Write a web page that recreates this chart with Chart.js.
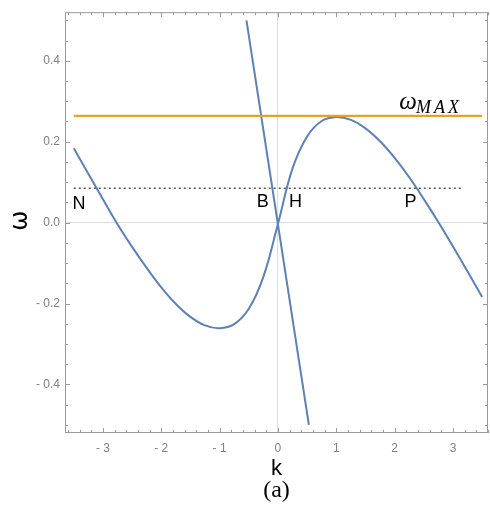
<!DOCTYPE html>
<html><head><meta charset="utf-8">
<script src="https://cdn.jsdelivr.net/npm/chart.js@4/dist/chart.umd.min.js"></script>
<style>html,body{margin:0;padding:0;background:#fff}#wrap{width:490px;height:525px;position:relative}</style>
</head><body><div id="wrap"><canvas id="c"></canvas></div>
<script>
// dispersion curve omega(k)
const curveK = [-3.5,-3.25,-3.0,-2.75,-2.5,-2.25,-2.0,-1.75,-1.5,-1.25,-1.0,-0.75,-0.5,-0.25,0,0.25,0.5,0.75,1.0,1.25,1.5,1.75,2.0,2.25,2.5,2.75,3.0,3.25,3.5];
const curveW = [0.184,0.121,0.058,-0.004,-0.060,-0.112,-0.160,-0.201,-0.233,-0.254,-0.261,-0.251,-0.213,-0.134,-0.003,0.134,0.213,0.251,0.261,0.254,0.233,0.201,0.160,0.112,0.058,0.001,-0.059,-0.121,-0.184];
// steep straight line
const lineK = [-0.54, 0.53];
const lineW = [0.50, -0.50];
// omega_MAX level
const maxK = [-3.5, 3.5];
const maxW = [0.264, 0.264];
// dotted frequency level
const levelK = [-3.5, 3.16];
const levelW = [0.085, 0.085];
// tick labels
const xTicks = [-3,-2,-1,0,1,2,3];
const yTicks = [-0.4,-0.2,0,0.2,0.4];
// point labels on the dotted level
const pointNames = ['N','B','H','P'];
const pointNameK = [-3.41,-0.26,0.30,2.27];
const pointNameW = [0.046,0.052,0.052,0.052];

const pts = (xs, ys) => xs.map((x, i) => ({x, y: ys[i]}));
const BLUE = '#5E81B5', ORANGE = '#E8A02A', GRAY = '#9a9a9a';

const framePlugin = {
  id: 'frame',
  afterDatasetsDraw(chart) {
    const {ctx, chartArea: a, scales: {x, y}} = chart;
    ctx.save();
    ctx.strokeStyle = GRAY; ctx.lineWidth = 1;
    ctx.strokeRect(a.left + 0.5, a.top + 0.5, a.right - a.left - 1, a.bottom - a.top - 1);
    ctx.beginPath();
    for (let i = -18; i <= 18; i++) {
      const v = i * 0.2; if (v < x.min || v > x.max) continue;
      const px = Math.round(x.getPixelForValue(v)) + 0.5;
      const len = (i % 5 === 0) ? 5 : 3;
      ctx.moveTo(px, a.bottom); ctx.lineTo(px, a.bottom - len);
      ctx.moveTo(px, a.top); ctx.lineTo(px, a.top + len);
    }
    for (let i = -10; i <= 10; i++) {
      const v = i * 0.05; if (v < y.min || v > y.max) continue;
      const py = Math.round(y.getPixelForValue(v)) + 0.5;
      const len = (i % 4 === 0) ? 5 : 3;
      ctx.moveTo(a.left, py); ctx.lineTo(a.left + len, py);
      ctx.moveTo(a.right, py); ctx.lineTo(a.right - len, py);
    }
    ctx.stroke();
    ctx.restore();
  },
  afterDraw(chart) {
    const {ctx, chartArea: a, scales: {x, y}} = chart;
    ctx.save();
    ctx.fillStyle = '#000';
    ctx.textAlign = 'center'; ctx.textBaseline = 'middle';
    ctx.font = '18px "Liberation Sans", Arial, sans-serif';
    pointNames.forEach((n, i) => {
      ctx.fillText(n, x.getPixelForValue(pointNameK[i]), y.getPixelForValue(pointNameW[i]));
    });
    // omega_MAX label
    ctx.textAlign = 'left'; ctx.textBaseline = 'alphabetic';
    const lx = x.getPixelForValue(2.08), ly = y.getPixelForValue(0.281);
    ctx.font = 'italic 25px "Liberation Serif", serif';
    ctx.fillText('ω', lx, ly);
    const w = ctx.measureText('ω').width;
    ctx.font = 'italic 18px "Liberation Serif", serif';
    ctx.letterSpacing = '3px';
    ctx.fillText('MAX', lx + w - 1, ly + 4);
    ctx.letterSpacing = '0px';
    // axis titles
    const cx = (a.left + a.right) / 2;
    ctx.textAlign = 'center'; ctx.textBaseline = 'middle';
    ctx.font = '22px "Liberation Sans", Arial, sans-serif';
    ctx.fillText('k', cx, 469);
    ctx.save();
    ctx.translate(21, y.getPixelForValue(0) - 2);
    ctx.rotate(-Math.PI / 2);
    ctx.font = '24px "DejaVu Sans", sans-serif';
    ctx.fillText('ω', 0, 0);
    ctx.restore();
    ctx.font = '24px "Liberation Serif", serif';
    ctx.fillText('(a)', cx, 491);
    ctx.restore();
  }
};

new Chart(document.getElementById('c'), {
  type: 'scatter',
  data: {
    datasets: [
      {data: pts(levelK, levelW), showLine: true, borderColor: '#555', borderWidth: 1.6, borderDash: [2, 3], pointRadius: 0},
      {data: pts(maxK, maxW), showLine: true, borderColor: ORANGE, borderWidth: 2.2, pointRadius: 0},
      {data: pts(curveK, curveW), showLine: true, borderColor: BLUE, borderWidth: 2, pointRadius: 0, tension: 0.4},
      {data: pts(lineK, lineW), showLine: true, borderColor: BLUE, borderWidth: 2, pointRadius: 0}
    ]
  },
  options: {
    responsive: true, maintainAspectRatio: false, animation: false,
    layout: {padding: {top: 7, right: 2, left: 0, bottom: 0}},
    plugins: {legend: {display: false}, tooltip: {enabled: false}},
    scales: {
      x: {
        type: 'linear', min: -3.65, max: 3.6,
        afterBuildTicks: s => { s.ticks = xTicks.map(v => ({value: v})); },
        afterFit: s => { s.height = 92; },
        ticks: {padding: 8, color: '#808080', font: {size: 12, family: '"Liberation Sans", Arial, sans-serif'},
          callback: v => (v < 0 ? '- ' : '') + Math.abs(v).toFixed(0)},
        grid: {drawTicks: false, color: c => (c.tick && c.tick.value === 0) ? '#dcdcdc' : 'rgba(0,0,0,0)'},
        border: {display: false}
      },
      y: {
        type: 'linear', min: -0.52, max: 0.52,
        afterBuildTicks: s => { s.ticks = yTicks.map(v => ({value: v})); },
        afterFit: s => { s.width = 65; },
        ticks: {padding: 5, color: '#808080', font: {size: 12, family: '"Liberation Sans", Arial, sans-serif'},
          callback: v => (v < 0 ? '- ' : '') + Math.abs(v).toFixed(1)},
        grid: {drawTicks: false, color: c => (c.tick && Math.abs(c.tick.value) < 1e-9) ? '#dcdcdc' : 'rgba(0,0,0,0)'},
        border: {display: false}
      }
    }
  },
  plugins: [framePlugin]
});
</script></body></html>
